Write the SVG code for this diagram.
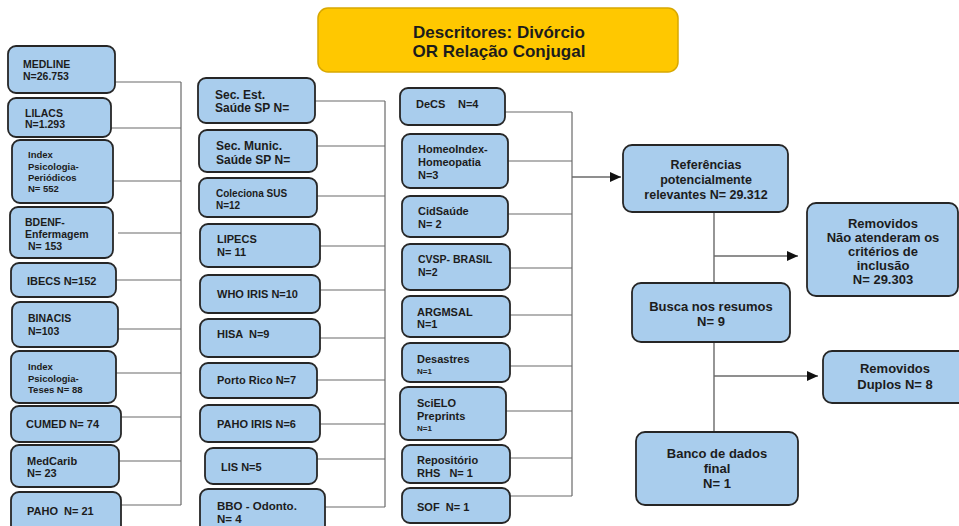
<svg xmlns="http://www.w3.org/2000/svg" width="959" height="526" viewBox="0 0 959 526">
<style>
.b{fill:#A9CDED;stroke:#262626;stroke-width:1.8}
.t{font-family:"Liberation Sans",Arial,sans-serif;font-weight:bold;fill:#1c1c1c;font-size:11px}
.c{fill:none;stroke:#6a6a6a;stroke-width:1.2}
.a{fill:none;stroke:#6a6a6a;stroke-width:1.4}
.m{text-anchor:middle;font-size:13px}
</style>
<defs>
<marker id="ah" markerUnits="userSpaceOnUse" markerWidth="11" markerHeight="10" refX="11" refY="5" orient="auto">
<path d="M0,0 L11,5 L0,10 z" fill="#111"/>
</marker>
</defs>
<rect width="959" height="526" fill="#fff"/>

<g id="header">
<rect x="318" y="8" width="360" height="64" rx="10" fill="#FFC800" stroke="#D8A800" stroke-width="1.5"/>
<text class="t" x="499" y="38" text-anchor="middle" style="font-size:17px">Descritores: Divórcio</text>
<text class="t" x="499" y="57" text-anchor="middle" style="font-size:17px">OR Relação Conjugal</text>
</g>

<g id="connectors">
<path class="c" d="M115,82H181M111,128H181M113,181H181M118,233H181M116,280H181M118,329H181M113,373H181M118,417H181M119,461H181M121,505H181M181,82V505"/>
<path class="c" d="M315,101H385M317,146H385M312,196H385M316,246H385M318,290H385M318,338H385M310,380H385M318,424H385M317,459H385M318,507H385M385,101V507"/>
<path class="c" d="M505,112H572M508,161H572M503,214H572M510,268H572M510,315H572M510,366H572M506,411H572M510,458H572M510,496H572M572,112V496"/>
<path class="a" d="M572,177H621" marker-end="url(#ah)"/>
<path class="a" d="M714,212V283M714,342V432"/>
<path class="a" d="M714,256H798" marker-end="url(#ah)"/>
<path class="a" d="M714,376H818" marker-end="url(#ah)"/>
</g>

<g id="medline"><rect class="b" x="8" y="46" width="107" height="47" rx="8"/><text class="t" x="23" y="68" style="font-size:10.5px">MEDLINE</text><text class="t" x="23" y="80" style="font-size:10.5px">N=26.753</text></g>
<g id="lilacs"><rect class="b" x="8" y="98" width="103" height="39" rx="8"/><text class="t" x="25" y="117" style="font-size:10.5px">LILACS</text><text class="t" x="25" y="128" style="font-size:10.5px">N=1.293</text></g>
<g id="index-periodicos"><rect class="b" x="12" y="140" width="101" height="63" rx="8"/><text class="t" x="28" y="158" style="font-size:9.5px">Index</text><text class="t" x="28" y="169.5" style="font-size:9.5px">Psicologia-</text><text class="t" x="28" y="181" style="font-size:9.5px">Periódicos</text><text class="t" x="28" y="192" style="font-size:9.5px">N= 552</text></g>
<g id="bdenf"><rect class="b" x="10" y="207" width="103" height="51" rx="8"/><text class="t" x="25" y="226" style="font-size:10.5px">BDENF-</text><text class="t" x="25" y="238" style="font-size:10.5px">Enfermagem</text><text class="t" x="28" y="250" style="font-size:10.5px">N= 153</text></g>
<g id="ibecs"><rect class="b" x="11" y="263" width="105" height="34" rx="8"/><text class="t" x="27" y="285">IBECS N=152</text></g>
<g id="binacis"><rect class="b" x="12" y="302" width="106" height="45" rx="8"/><text class="t" x="28" y="322" style="font-size:10.5px">BINACIS</text><text class="t" x="28" y="335" style="font-size:10.5px">N=103</text></g>
<g id="index-teses"><rect class="b" x="11" y="351" width="105" height="52" rx="8"/><text class="t" x="28" y="370" style="font-size:9.5px">Index</text><text class="t" x="28" y="381.5" style="font-size:9.5px">Psicologia-</text><text class="t" x="28" y="393" style="font-size:9.5px">Teses N= 88</text></g>
<g id="cumed"><rect class="b" x="11" y="406" width="110" height="36" rx="8"/><text class="t" x="26" y="428">CUMED N= 74</text></g>
<g id="medcarib"><rect class="b" x="11" y="445" width="108" height="42" rx="8"/><text class="t" x="27" y="465">MedCarib</text><text class="t" x="27" y="477">N= 23</text></g>
<g id="paho"><rect class="b" x="11" y="492" width="110" height="42" rx="8"/><text class="t" x="27" y="515" xml:space="preserve">PAHO  N= 21</text></g>

<g id="sec-est"><rect class="b" x="198" y="78" width="117" height="45" rx="8"/><text class="t" x="215" y="99" style="font-size:12px">Sec. Est.</text><text class="t" x="215" y="112" style="font-size:12px">Saúde SP N=</text></g>
<g id="sec-munic"><rect class="b" x="199" y="130" width="118" height="42" rx="8"/><text class="t" x="216" y="150" style="font-size:12px">Sec. Munic.</text><text class="t" x="216" y="164" style="font-size:12px">Saúde SP N=</text></g>
<g id="coleciona"><rect class="b" x="199" y="178" width="118" height="39" rx="8"/><text class="t" x="216" y="197" style="font-size:10px">Coleciona SUS</text><text class="t" x="216" y="209" style="font-size:10px">N=12</text></g>
<g id="lipecs"><rect class="b" x="200" y="224" width="120" height="43" rx="8"/><text class="t" x="217" y="243">LIPECS</text><text class="t" x="217" y="256">N= 11</text></g>
<g id="who-iris"><rect class="b" x="200" y="275" width="120" height="38" rx="8"/><text class="t" x="217" y="298">WHO IRIS N=10</text></g>
<g id="hisa"><rect class="b" x="200" y="319" width="120" height="38" rx="8"/><text class="t" x="217" y="338" xml:space="preserve">HISA  N=9</text></g>
<g id="porto-rico"><rect class="b" x="200" y="363" width="117" height="35" rx="8"/><text class="t" x="217" y="384">Porto Rico N=7</text></g>
<g id="paho-iris"><rect class="b" x="200" y="405" width="120" height="37" rx="8"/><text class="t" x="217" y="428">PAHO IRIS N=6</text></g>
<g id="lis"><rect class="b" x="205" y="448" width="112" height="36" rx="8"/><text class="t" x="221" y="471">LIS N=5</text></g>
<g id="bbo"><rect class="b" x="200" y="489" width="125" height="45" rx="8"/><text class="t" x="217" y="510" style="font-size:11.5px">BBO - Odonto.</text><text class="t" x="217" y="523" style="font-size:11.5px">N= 4</text></g>

<g id="decs"><rect class="b" x="400" y="88" width="105" height="37" rx="8"/><text class="t" x="416" y="108">DeCS</text><text class="t" x="458" y="108">N=4</text></g>
<g id="homeoindex"><rect class="b" x="402" y="134" width="106" height="54" rx="8"/><text class="t" x="418" y="153">HomeoIndex-</text><text class="t" x="418" y="166">Homeopatia</text><text class="t" x="418" y="179">N=3</text></g>
<g id="cidsaude"><rect class="b" x="402" y="196" width="106" height="41" rx="8"/><text class="t" x="418" y="215">CidSaúde</text><text class="t" x="418" y="228">N= 2</text></g>
<g id="cvsp"><rect class="b" x="402" y="244" width="108" height="46" rx="8"/><text class="t" x="418" y="263" style="font-size:10.5px">CVSP- BRASIL</text><text class="t" x="418" y="276" style="font-size:10.5px">N=2</text></g>
<g id="argmsal"><rect class="b" x="402" y="296" width="108" height="41" rx="8"/><text class="t" x="417" y="316">ARGMSAL</text><text class="t" x="417" y="328">N=1</text></g>
<g id="desastres"><rect class="b" x="402" y="343" width="108" height="39" rx="8"/><text class="t" x="417" y="363">Desastres</text><text class="t" x="417" y="374" style="font-size:8px">N=1</text></g>
<g id="scielo"><rect class="b" x="400" y="387" width="106" height="53" rx="8"/><text class="t" x="417" y="407">SciELO</text><text class="t" x="417" y="420">Preprints</text><text class="t" x="417" y="431" style="font-size:8px">N=1</text></g>
<g id="repositorio"><rect class="b" x="402" y="445" width="108" height="38" rx="8"/><text class="t" x="417" y="464">Repositório</text><text class="t" x="417" y="477" xml:space="preserve">RHS   N= 1</text></g>
<g id="sof"><rect class="b" x="402" y="488" width="108" height="35" rx="8"/><text class="t" x="417" y="511" xml:space="preserve">SOF  N= 1</text></g>

<g id="referencias"><rect class="b" x="623" y="145" width="165" height="67" rx="9"/><text class="t m" x="706" y="169" style="font-size:12.5px">Referências</text><text class="t m" x="706" y="184" style="font-size:12.5px">potencialmente</text><text class="t m" x="706" y="199" style="font-size:12.5px">relevantes N= 29.312</text></g>
<g id="removidos-criterios"><rect class="b" x="807" y="203" width="151" height="93" rx="9"/><text class="t m" x="883" y="228">Removidos</text><text class="t m" x="883" y="242">Não atenderam os</text><text class="t m" x="883" y="256">critérios de</text><text class="t m" x="883" y="270">inclusão</text><text class="t m" x="883" y="284">N= 29.303</text></g>
<g id="busca"><rect class="b" x="632" y="283" width="158" height="59" rx="9"/><text class="t m" x="711" y="311">Busca nos resumos</text><text class="t m" x="711" y="326">N= 9</text></g>
<g id="removidos-duplos"><rect class="b" x="823" y="351" width="145" height="52" rx="9"/><text class="t m" x="895" y="373">Removidos</text><text class="t m" x="895" y="389">Duplos N= 8</text></g>
<g id="banco"><rect class="b" x="636" y="432" width="162" height="73" rx="9"/><text class="t m" x="717" y="458">Banco de dados</text><text class="t m" x="717" y="473">final</text><text class="t m" x="717" y="488">N= 1</text></g>
</svg>
